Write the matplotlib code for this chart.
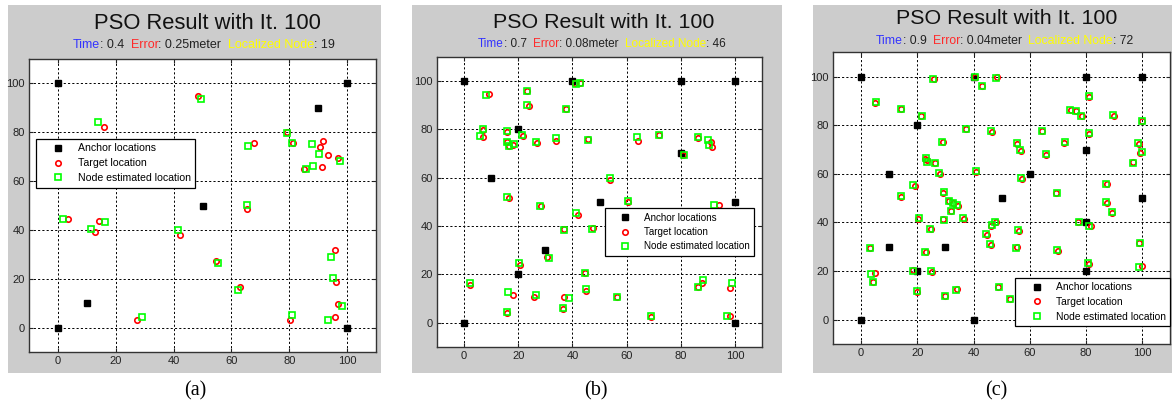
import numpy as np
import matplotlib
matplotlib.use('Agg')
import matplotlib.pyplot as plt
from matplotlib.patches import Rectangle

# ---------------- data ----------------
anchor_a = np.array([[0, 100], [100, 100], [90, 90], [50, 50], [10, 10], [0, 0], [100, 0]])
target_a = np.array([
    [48.4, 95.0], [15.8, 82.0], [79.1, 80.0], [67.9, 75.4], [81.3, 75.8], [90.5, 74.1],
    [91.6, 76.6], [93.3, 70.7], [97.0, 69.5], [85.0, 64.8], [91.4, 65.6], [3.6, 44.5],
    [12.7, 39.2], [14.1, 43.8], [42.1, 38.1], [54.6, 27.3], [63.1, 16.7], [65.5, 48.7],
    [95.8, 31.7], [96.2, 18.5], [96.8, 9.8], [95.8, 4.4], [80.1, 3.3], [27.5, 3.0]])
estim_a = np.array([
    [49.5, 93.6], [14.0, 84.0], [79.1, 79.7], [65.8, 74.4], [80.8, 75.8], [88.0, 75.0],
    [90.2, 70.9], [97.7, 68.2], [85.7, 65.0], [88.1, 66.0], [1.7, 44.6], [11.4, 40.5],
    [16.2, 43.1], [41.7, 39.9], [55.3, 26.5], [62.4, 15.5], [65.5, 50.1], [94.3, 28.8],
    [95.1, 20.4], [98.2, 8.7], [93.5, 3.1], [81.0, 5.0], [29.0, 4.2]])

anchor_b = np.array([[0, 100], [40, 100], [80, 100], [100, 100], [20, 80], [10, 60], [80, 70],
                     [50, 50], [100, 50], [30, 30], [20, 20], [0, 0], [100, 0]])
target_b = np.array([
    [9.1, 94.7], [7.0, 79.6], [7.0, 76.8], [16.0, 79.0], [16.0, 74.6], [16.7, 73.0],
    [18.1, 73.6], [21.8, 77.2], [23.3, 95.8], [23.9, 89.6], [27.0, 74.3], [34.0, 75.1],
    [37.8, 88.2], [40.9, 99.0], [42.7, 99.1], [45.6, 76.0], [53.8, 59.0], [64.2, 75.3],
    [71.9, 77.4], [81.0, 69.4], [86.3, 76.4], [91.0, 74.6], [91.5, 72.8], [16.5, 51.6],
    [28.3, 48.3], [60.5, 49.8], [42.2, 44.7], [37.0, 38.6], [47.5, 39.0], [94.0, 48.8],
    [20.8, 23.7], [30.7, 27.1], [44.6, 20.4], [2.1, 15.5], [18.0, 11.4], [25.9, 10.5],
    [37.0, 10.4], [45.0, 13.1], [56.6, 10.5], [15.8, 4.0], [36.6, 5.7], [68.9, 2.3],
    [86.3, 14.7], [88.0, 16.4], [98.2, 2.9], [98.3, 14.2]])
estim_b = np.array([
    [8.1, 94.1], [6.8, 80.1], [6.0, 77.1], [15.9, 79.3], [15.7, 74.9], [16.5, 73.2],
    [18.4, 73.8], [21.5, 77.4], [23.1, 96.0], [23.3, 90.1], [26.6, 74.8], [34.0, 76.2],
    [37.7, 88.4], [41.2, 98.8], [42.9, 99.3], [45.9, 75.7], [54.0, 60.0], [64.0, 76.7],
    [71.8, 77.5], [81.3, 69.3], [86.2, 76.6], [90.0, 75.5], [90.5, 73.5], [15.9, 51.8],
    [27.9, 48.4], [60.5, 50.1], [41.2, 45.3], [37.0, 38.2], [47.3, 38.9], [92.4, 48.8],
    [20.3, 24.7], [31.2, 26.8], [44.5, 20.5], [2.1, 16.2], [16.1, 12.6], [26.5, 11.5],
    [38.6, 10.3], [45.0, 13.7], [56.6, 10.7], [15.8, 4.5], [36.6, 6.0], [68.9, 2.5],
    [86.2, 14.9], [88.3, 17.4], [97.2, 2.9], [98.8, 16.2]])

anchor_c = np.array([[0, 100], [40, 100], [80, 100], [100, 100], [20, 80], [80, 70], [10, 60],
                     [60, 60], [50, 50], [100, 50], [10, 30], [30, 30], [80, 40], [20, 20],
                     [80, 20], [0, 0], [40, 0]])
target_c = np.array([
    [4.8, 89.0], [14.1, 86.6], [21.4, 84.0], [25.9, 99.0], [40.5, 99.9], [43.1, 96.2],
    [48.3, 99.9], [37.2, 78.3], [46.5, 77.3], [29.2, 73.3], [22.8, 66.3], [23.4, 65.5],
    [26.4, 64.4], [27.9, 60.0], [40.9, 60.9], [55.5, 72.3], [56.8, 69.5], [57.1, 58.0],
    [64.5, 77.5], [65.7, 67.6], [72.2, 72.7], [74.6, 86.2], [76.6, 85.8], [78.4, 83.7],
    [81.1, 91.8], [81.0, 76.2], [90.0, 83.9], [99.9, 81.8], [98.8, 72.4], [99.2, 68.6],
    [96.8, 64.8], [87.3, 55.8], [69.4, 52.0], [19.0, 54.8], [14.2, 50.5], [29.3, 52.3],
    [31.4, 48.8], [32.6, 47.9], [34.4, 46.8], [31.9, 44.6], [20.4, 41.3], [29.0, 41.3],
    [36.5, 41.6], [24.8, 37.3], [46.2, 38.5], [47.8, 40.0], [44.6, 35.0], [46.1, 30.6],
    [56.1, 36.6], [55.3, 29.8], [87.3, 48.0], [89.4, 44.0], [77.2, 40.0], [81.7, 38.4],
    [99.0, 31.4], [3.1, 29.5], [23.0, 27.8], [69.9, 28.2], [4.9, 19.2], [4.1, 15.6],
    [18.4, 20.3], [20.0, 11.4], [25.2, 19.5], [30.0, 9.8], [34.1, 12.5], [48.8, 13.3],
    [52.9, 8.4], [80.9, 23.0], [100.0, 21.9]])
estim_c = np.array([
    [5.2, 89.5], [14.1, 86.8], [21.6, 84.0], [25.6, 99.2], [40.4, 99.7], [43.1, 96.3],
    [47.9, 99.5], [37.2, 78.5], [46.2, 77.7], [28.9, 73.2], [23.2, 66.5], [23.6, 65.0],
    [26.2, 64.6], [27.7, 60.4], [40.8, 61.0], [55.3, 72.6], [56.6, 69.7], [57.0, 58.2],
    [64.3, 77.7], [65.7, 68.0], [72.4, 73.3], [74.4, 86.4], [76.3, 85.9], [78.2, 83.8],
    [80.9, 92.1], [80.9, 76.6], [89.5, 84.2], [99.8, 81.9], [98.5, 72.7], [99.8, 69.0],
    [96.8, 64.6], [87.1, 56.0], [69.7, 52.1], [18.4, 55.3], [14.1, 50.7], [29.4, 52.5],
    [31.3, 49.0], [32.8, 47.8], [34.2, 47.1], [31.9, 44.9], [20.6, 41.7], [29.5, 41.1],
    [36.3, 41.8], [24.6, 37.5], [46.5, 38.9], [47.6, 40.3], [44.5, 35.3], [46.0, 31.1],
    [55.9, 36.8], [55.2, 29.3], [87.2, 48.3], [89.3, 44.2], [77.4, 40.1], [81.2, 38.7],
    [99.2, 31.4], [3.0, 29.4], [22.8, 28.0], [69.8, 28.5], [3.4, 18.8], [4.1, 15.4],
    [18.6, 20.2], [19.8, 11.8], [24.9, 20.1], [29.7, 9.9], [33.9, 12.4], [48.9, 13.5],
    [52.8, 8.5], [80.7, 23.2], [98.8, 21.7]])

times = ['0.4', '0.7', '0.9']
errors = ['0.25meter', '0.08meter', '0.04meter']
localized = ['19', '46', '72']
panel_labels = ['(a)', '(b)', '(c)']
ticks = [0, 20, 40, 60, 80, 100]

# ---------------- layout (pixels) ----------------
W, H = 1172, 409
plt.rcParams['font.family'] = ['Liberation Sans', 'DejaVu Sans']

panels = [
    dict(grey=(8, 5, 381, 373), axes=(29, 59, 376, 352), title=(207, 29.3, 15.8),
         sub=(73, 48.3, 9.0), label=(195, 391), leg=('upper left', (0.02, 0.728), 7.6)),
    dict(grey=(412, 5, 782, 373), axes=(437, 56.7, 762, 346.7), title=(604, 28.3, 15.4),
         sub=(478, 47.3, 8.5), label=(596, 391), leg=('upper right', (0.975, 0.478), 7.1)),
    dict(grey=(813, 5, 1172, 373), axes=(833, 52.3, 1170.4, 344), title=(1007, 24, 15.4),
         sub=(876, 44, 8.8), label=(996, 391), leg=('upper right', (1.0, 0.227), 7.4)),
]
data = [(anchor_a, target_a, estim_a), (anchor_b, target_b, estim_b), (anchor_c, target_c, estim_c)]

fig = plt.figure(figsize=(W / 100, H / 100), dpi=100)
fig.patch.set_facecolor('white')


def fx(px):
    return px / W


def fy(py):
    return 1 - py / H


for i, p in enumerate(panels):
    gl, gt, gr, gb = p['grey']
    fig.add_artist(Rectangle((fx(gl), fy(gb)), (gr - gl) / W, (gb - gt) / H,
                             transform=fig.transFigure, facecolor='#cccccc',
                             edgecolor='none', zorder=-1))
    l, t, r, b = p['axes']
    ax = fig.add_axes([fx(l), fy(b), (r - l) / W, (b - t) / H])
    anchors, targets, estims = data[i]
    ax.plot(anchors[:, 0], anchors[:, 1], 's', color='black', ms=4.5, mec='black',
            label='Anchor locations', zorder=3)
    ax.plot(targets[:, 0], targets[:, 1], 'o', mfc='none', mec='#ff0000', ms=3.9, mew=1.2,
            label='Target location', zorder=4)
    ax.plot(estims[:, 0], estims[:, 1], 's', mfc='none', mec='#00ff00', ms=4.2, mew=1.2,
            label='Node estimated location', zorder=5)
    ax.set_xlim(-10, 110)
    ax.set_ylim(-10, 110)
    ax.set_xticks(ticks)
    ax.set_yticks(ticks)
    ax.grid(True, color='black', linestyle=(0, (2.2, 2.2)), linewidth=0.7)
    ax.set_axisbelow(True)
    ax.tick_params(direction='in', length=3, width=0.8, labelsize=8, colors='#222222',
                   top=True, right=True, pad=3)
    for s in ax.spines.values():
        s.set_color('#333333')
        s.set_linewidth(1.0)
    loc, anchor, lfs = p['leg']
    leg = ax.legend(loc=loc, bbox_to_anchor=anchor, fancybox=False, framealpha=1,
                    edgecolor='black', borderpad=0.45, handlelength=3.3,
                    handletextpad=0.2, labelspacing=0.45, borderaxespad=0,
                    fontsize=lfs)
    leg.get_frame().set_linewidth(0.9)
    leg.set_zorder(10)

    # title and coloured subtitle
    tx, ty, tfs = p['title']
    fig.text(fx(tx), fy(ty), 'PSO Result with It. 100', ha='center', va='baseline',
             fontsize=tfs, color='#111111')
    sx, sy, sfs = p['sub']
    pieces = [('Time', '#3333ff', 0), (': ' + times[i], '#222222', 0),
              ('Error', '#ff2a2a', 4.5), (': ' + errors[i], '#222222', 0),
              ('Localized Node', '#ffff00', 4.5), (': ' + localized[i], '#222222', 0)]
    last = None
    for txt, col, gap in pieces:
        if last is None:
            last = fig.text(fx(sx), fy(sy), txt, ha='left', va='baseline', color=col,
                            fontsize=sfs)
        else:
            last = ax.annotate(txt, xy=(1, 0), xycoords=last, xytext=(gap, 0),
                               textcoords='offset points', ha='left', va='bottom',
                               color=col, fontsize=sfs, annotation_clip=False)

    lx, ly = p['label']
    fig.text(fx(lx), fy(ly), panel_labels[i], ha='center', va='center', fontsize=14.5,
             family=['Liberation Serif', 'DejaVu Serif'], color='black')

fig.savefig('out.png', dpi=100, facecolor='white')
